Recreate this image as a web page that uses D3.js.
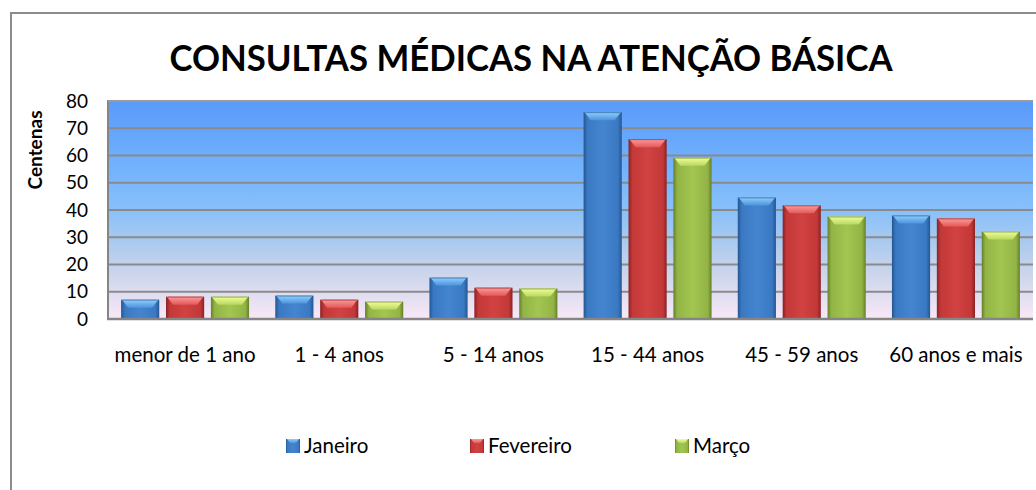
<!DOCTYPE html>
<html>
<head>
<meta charset="utf-8">
<script src="https://cdn.jsdelivr.net/npm/d3@7"></script>
<style>
  body { margin: 0; background: #fff; }
  text { font-family: Lato, "Open Sans", sans-serif; fill: #000; }
</style>
</head>
<body>
<div id="chart-area"></div>
<script>
// dados (centenas de consultas)
var categorias = ["menor de 1 ano", "1 - 4 anos", "5 - 14 anos", "15 - 44 anos", "45 - 59 anos", "60 anos e mais"];
var meses = ["Janeiro", "Fevereiro", "Março"];
var janeiro   = [7.1, 8.6, 15.2, 75.9, 44.6, 38.0];
var fevereiro = [8.2, 7.1, 11.5, 66.0, 41.7, 36.9];
var marco     = [8.2, 6.4, 11.2, 59.2, 37.6, 32.1];
var yTicks = [0, 10, 20, 30, 40, 50, 60, 70, 80];

var series = [janeiro, fevereiro, marco];

// cores por serie: borda escura, corpo, centro, bisel
var cores = [
    { edge: "#245691", body: "#3a78c2", mid: "#4585cf", bev1: "#8fd0ff", bev2: "#4f93dc" },
    { edge: "#8a2222", body: "#c33838", mid: "#d24242", bev1: "#ff9a9a", bev2: "#e25a5a" },
    { edge: "#667f28", body: "#92b446", mid: "#a2c650", bev1: "#f2ff98", bev2: "#b8d860" }
];

var W = 1036, H = 490;
var plot = { left: 108, right: 1033, top: 101, bottom: 319 };

var svg = d3.select("#chart-area")
    .append("svg")
        .attr("width", W)
        .attr("height", H);

var defs = svg.append("defs");

var bg = defs.append("linearGradient")
    .attr("id", "bg").attr("x1", 0).attr("y1", 0).attr("x2", 0).attr("y2", 1);
[["0%", "#5a9afa"], ["30%", "#72b2fc"], ["50%", "#88c0fa"], ["65%", "#abcaee"],
 ["80%", "#cdd6ec"], ["100%", "#f9e8f7"]].forEach(function(s) {
    bg.append("stop").attr("offset", s[0]).attr("stop-color", s[1]);
});

cores.forEach(function(c, i) {
    var g = defs.append("linearGradient")
        .attr("id", "bar" + i).attr("x1", 0).attr("y1", 0).attr("x2", 1).attr("y2", 0);
    g.append("stop").attr("offset", "0%").attr("stop-color", c.edge);
    g.append("stop").attr("offset", "10%").attr("stop-color", c.body);
    g.append("stop").attr("offset", "50%").attr("stop-color", c.mid);
    g.append("stop").attr("offset", "90%").attr("stop-color", c.body);
    g.append("stop").attr("offset", "100%").attr("stop-color", c.edge);
    var b = defs.append("linearGradient")
        .attr("id", "bev" + i).attr("x1", 0).attr("y1", 0).attr("x2", 0).attr("y2", 1);
    b.append("stop").attr("offset", "0%").attr("stop-color", c.bev1);
    b.append("stop").attr("offset", "100%").attr("stop-color", c.bev2);
});

// moldura do grafico
svg.append("rect")
    .attr("x", 11).attr("y", 13)
    .attr("width", 1040).attr("height", 500)
    .attr("fill", "none")
    .attr("stroke", "#8c8c8c")
    .attr("stroke-width", 2);

// titulo
svg.append("text")
    .attr("x", 531).attr("y", 71)
    .attr("text-anchor", "middle")
    .attr("font-size", 37)
    .attr("font-weight", "bold")
    .attr("textLength", 723)
    .attr("lengthAdjust", "spacingAndGlyphs")
    .text("CONSULTAS MÉDICAS NA ATENÇÃO BÁSICA");

var y = d3.scaleLinear().domain([0, 80]).range([plot.bottom, plot.top]);

var x0 = d3.scaleBand()
    .domain(categorias)
    .range([plot.left, plot.right])
    .paddingInner(0.17)
    .paddingOuter(0.085);

var x1 = d3.scaleBand()
    .domain(d3.range(meses.length))
    .range([0, x0.bandwidth()])
    .paddingInner(0.15);

// fundo da area de plotagem
svg.append("rect")
    .attr("x", plot.left).attr("y", plot.top)
    .attr("width", plot.right - plot.left)
    .attr("height", plot.bottom - plot.top)
    .attr("fill", "url(#bg)");

// linhas de grade
svg.append("g")
    .selectAll("line")
    .data(yTicks.slice(1))
    .join("line")
        .attr("x1", plot.left).attr("x2", plot.right)
        .attr("y1", d => y(d)).attr("y2", d => y(d))
        .attr("stroke", "#8a8a8a")
        .attr("stroke-width", 2);

// eixo y
var yAxis = svg.append("g")
    .attr("transform", "translate(" + plot.left + ",0)")
    .call(d3.axisLeft(y).tickValues(yTicks).tickSize(0).tickPadding(20));
yAxis.select(".domain").remove();
yAxis.selectAll("text")
    .attr("font-family", "Lato, sans-serif")
    .attr("font-size", 19)
    .attr("fill", "#000");

svg.append("text")
    .attr("transform", "translate(42,150) rotate(-90)")
    .attr("text-anchor", "middle")
    .attr("font-size", 19)
    .attr("font-weight", "bold")
    .text("Centenas");

// barras
var grupos = svg.append("g")
    .selectAll("g")
    .data(categorias)
    .join("g")
        .attr("transform", d => "translate(" + x0(d) + ",0)");

grupos.each(function(cat, ci) {
    var g = d3.select(this);
    series.forEach(function(s, si) {
        var v = s[ci];
        var bx = x1(si), bw = x1.bandwidth();
        var top = y(v), h = y(0) - y(v);
        var bev = Math.min(8, h / 2);
        g.append("rect")
            .attr("x", bx).attr("y", top)
            .attr("width", bw).attr("height", h)
            .attr("fill", "url(#bar" + si + ")");
        g.append("polygon")
            .attr("points", [
                [bx + 1, top], [bx + bw - 1, top],
                [bx + bw - 7, top + bev], [bx + 7, top + bev]
            ].map(p => p.join(",")).join(" "))
            .attr("fill", "url(#bev" + si + ")");
        g.append("line")
            .attr("x1", bx + 2).attr("x2", bx + bw - 2)
            .attr("y1", top + 0.5).attr("y2", top + 0.5)
            .attr("stroke", cores[si].edge).attr("stroke-opacity", 0.6);
    });
});

// eixos (bordas da area)
svg.append("line")
    .attr("x1", plot.left - 1).attr("x2", plot.right)
    .attr("y1", plot.bottom).attr("y2", plot.bottom)
    .attr("stroke", "#858585").attr("stroke-width", 2.5);
svg.append("line")
    .attr("x1", plot.left).attr("x2", plot.left)
    .attr("y1", plot.top - 1).attr("y2", plot.bottom)
    .attr("stroke", "#858585").attr("stroke-width", 2);
svg.append("line")
    .attr("x1", plot.left).attr("x2", plot.right)
    .attr("y1", plot.top).attr("y2", plot.top)
    .attr("stroke", "#9a9a9a").attr("stroke-width", 2);

// rotulos das categorias
svg.append("g")
    .selectAll("text")
    .data(categorias)
    .join("text")
        .attr("x", d => x0(d) + x0.bandwidth() / 2)
        .attr("y", 362)
        .attr("text-anchor", "middle")
        .attr("font-size", 20.5)
        .text(d => d);

// legenda
var legX = [286, 470, 675];
var leg = svg.append("g")
    .selectAll("g")
    .data(meses)
    .join("g")
        .attr("transform", (d, i) => "translate(" + legX[i] + ",439)");
leg.append("rect")
    .attr("width", 14).attr("height", 14)
    .attr("fill", (d, i) => "url(#bar" + i + ")");
leg.append("polygon")
    .attr("points", "1,0 13,0 10,4 4,4")
    .attr("fill", (d, i) => "url(#bev" + i + ")");
leg.append("text")
    .attr("x", 18).attr("y", 13.5)
    .attr("font-size", 20.5)
    .text(d => d);
</script>
</body>
</html>
